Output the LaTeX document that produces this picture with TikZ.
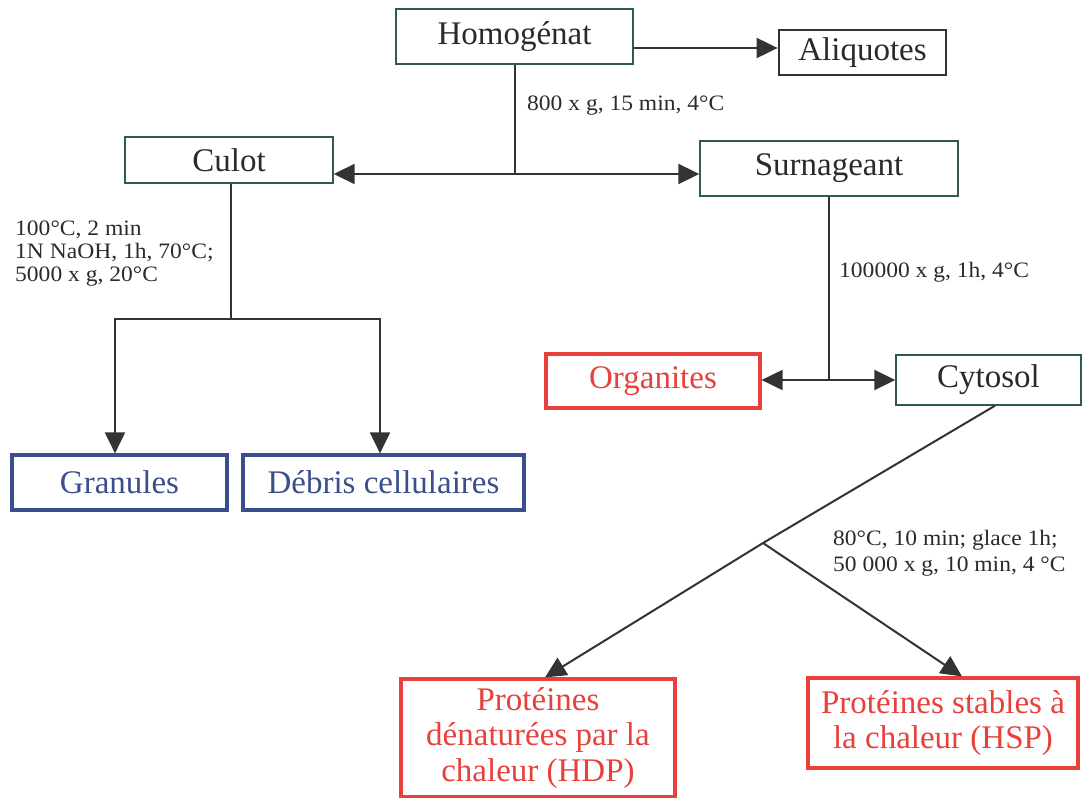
\documentclass[tikz,border=0pt]{standalone}
\usepackage{fontspec}
\setmainfont{Liberation Serif}
\newfontfamily\lblfont{Liberation Serif}[FakeStretch=1.07]
\usetikzlibrary{arrows.meta}
\definecolor{lineC}{HTML}{333333}
\definecolor{boxG}{HTML}{2F5A50}
\definecolor{redC}{HTML}{E8403A}
\definecolor{blueC}{HTML}{3A4E8E}
\definecolor{txtC}{HTML}{2A2A2A}
\tikzset{
  box/.style={draw=boxG, line width=1.4pt, rectangle, inner sep=0pt, text=txtC,
    font=\fontsize{33}{35.5}\selectfont, align=center},
  boxdark/.style={box, draw=lineC, line width=2.8pt},
  boxred/.style={box, draw=redC, line width=3.2pt, text=redC},
  boxblue/.style={box, draw=blueC, line width=3.2pt, text=blueC},
  conn/.style={draw=lineC, line width=2pt},
  arr/.style={conn, -{Triangle[length=21pt,width=20pt]}},
  lbl/.style={font=\lblfont\fontsize{22}{26}\selectfont, text=txtC, align=left, inner sep=0pt}
}
\begin{document}
\begin{tikzpicture}[x=1pt,y=-1pt]
\useasboundingbox (0,0) rectangle (1082,798);
% nodes
\node[box, minimum width=237pt, minimum height=55pt] (homog) at (514.5,36.5) {Homogénat};
\node[boxdark, minimum width=167pt, minimum height=45pt] (aliq) at (862.5,52.5) {Aliquotes};
\node[box, minimum width=208pt, minimum height=46pt] (culot) at (229,160) {Culot};
\node[box, minimum width=258pt, minimum height=55pt] (surn) at (829,168.5) {Surnageant};
\node[boxblue, minimum width=215pt, minimum height=55pt] (gran) at (119.5,482.5) {Granules};
\node[boxblue, minimum width=281pt, minimum height=55pt] (debris) at (383.5,482.5) {Débris cellulaires};
\node[boxred, minimum width=214pt, minimum height=54pt] (organ) at (653,381) {Organites};
\node[box, minimum width=185pt, minimum height=50pt] (cyto) at (988.5,380) {Cytosol};
\node[boxred, minimum width=274pt, minimum height=118pt] (hdp) at (538,738) {Protéines\\dénaturées par la\\chaleur (HDP)};
\node[boxred, minimum width=270pt, minimum height=90pt] (hsp) at (943,723) {Protéines stables à\\la chaleur (HSP)};
% junctions
\coordinate (j1) at (515,174);
\coordinate (j2) at (231,319);
\coordinate (j3) at (829,380);
\coordinate (j4) at (763,543);
\coordinate (a1) at (634,48);
% connectors
\draw[arr] (a1) -- (aliq.west |- a1);
\draw[conn] (homog.south -| j1) -- (j1);
\draw[arr] (j1) -- (culot.east |- j1);
\draw[arr] (j1) -- (surn.west |- j1);
\draw[conn] (culot.south -| j2) -- (j2);
\draw[arr] (j2) -| ([xshift=-4.5pt]gran.north);
\draw[arr] (j2) -| ([xshift=-3.5pt]debris.north);
\draw[conn] (surn.south) -- (j3);
\draw[arr] (j3) -- (organ.east |- j3);
\draw[arr] (j3) -- (cyto.west |- j3);
\draw[conn] ([xshift=6.5pt]cyto.south) -- (j4);
\draw[arr] (j4) -- ([xshift=7pt]hdp.north);
\draw[arr] (j4) -- ([xshift=19pt]hsp.north);
% labels (base = baseline of the last line)
\node[lbl, anchor=base west] (l1) at (527,110) {800 x g, 15 min, 4°C};
\node[lbl, anchor=base west, font=\lblfont\fontsize{22}{23}\selectfont] (l2) at (15,281) {100°C, 2 min\\1N NaOH, 1h, 70°C;\\5000 x g, 20°C};
\node[lbl, anchor=base west] (l3) at (839,277) {100000 x g, 1h, 4°C};
\node[lbl, anchor=base west] (l4) at (833,571) {80°C, 10 min; glace 1h;\\50 000 x g, 10 min, 4 °C};
\end{tikzpicture}
\end{document}
